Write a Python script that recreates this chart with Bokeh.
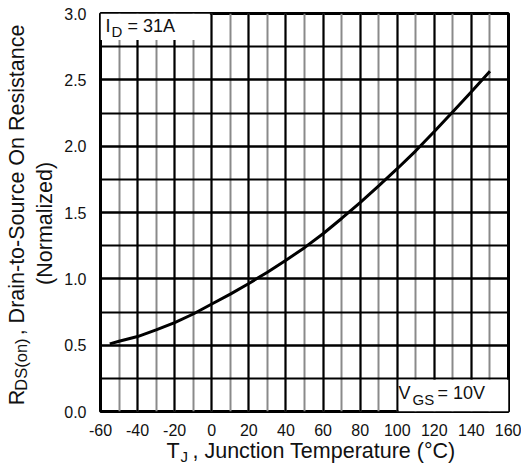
import math
from bokeh.plotting import figure
from bokeh.layouts import column, row
from bokeh.models import Range1d, SingleIntervalTicker, Label, BoxAnnotation, PrintfTickFormatter
from bokeh.embed import file_html
from bokeh.resources import INLINE

# ---- data ----
temps = [-55, -50, -40, -30, -20, -10, 0, 10, 20, 30, 40, 50, 60, 70, 80, 90, 100, 110, 120, 130, 140, 150]
rds_norm = [0.51, 0.53, 0.565, 0.615, 0.67, 0.735, 0.81, 0.885, 0.965, 1.05, 1.14, 1.235, 1.34, 1.455,
            1.575, 1.70, 1.83, 1.965, 2.11, 2.26, 2.41, 2.565]
x_ticks = [-60, -40, -20, 0, 20, 40, 60, 80, 100, 120, 140, 160]
y_ticks = [0.0, 0.5, 1.0, 1.5, 2.0, 2.5, 3.0]

FONT = "Liberation Sans"
INK = "#111111"

# page layout: left title strip | main plot ; bottom title strip
L_W, M_W, M_H, B_H = 60, 461, 439, 26

p = figure(width=M_W, height=M_H, output_backend="svg", toolbar_location=None,
           x_range=Range1d(x_ticks[0], x_ticks[-1]), y_range=Range1d(y_ticks[0], y_ticks[-1]),
           min_border_left=40, min_border_right=M_W - 40 - 408, min_border_top=13,
           min_border_bottom=M_H - 13 - 398)
p.background_fill_color = "white"
p.border_fill_color = "white"
p.outline_line_color = "black"
p.outline_line_width = 3

p.xaxis.ticker = SingleIntervalTicker(interval=20, num_minor_ticks=2)
p.yaxis.ticker = SingleIntervalTicker(interval=0.5, num_minor_ticks=2)
p.xaxis.formatter = PrintfTickFormatter(format="%d")
p.yaxis.formatter = PrintfTickFormatter(format="%.1f")
for ax in (p.xaxis, p.yaxis):
    ax.axis_line_color = None
    ax.major_tick_line_color = None
    ax.minor_tick_line_color = None
    ax.major_tick_out = 0
    ax.major_tick_in = 0
    ax.major_label_text_font = FONT
    ax.major_label_text_font_size = "16px"
    ax.major_label_text_color = INK
p.xaxis.major_label_standoff = 8
p.yaxis.major_label_standoff = 10

p.xgrid.grid_line_color = "black"
p.xgrid.grid_line_width = 2
p.xgrid.minor_grid_line_color = "#8a8a8a"
p.xgrid.minor_grid_line_width = 2
p.ygrid.grid_line_color = "black"
p.ygrid.grid_line_width = 2
p.ygrid.minor_grid_line_color = "black"
p.ygrid.minor_grid_line_width = 2

# white boxes behind the condition notes
p.add_layout(BoxAnnotation(left=-60, right=-1, bottom=2.8, top=3.0, fill_color="white",
                           fill_alpha=1, line_color=None, level="underlay"))
p.add_layout(BoxAnnotation(left=100.8, right=160, bottom=0, top=0.24, fill_color="white",
                           fill_alpha=1, line_color=None, level="underlay"))

p.line(temps, rds_norm, line_color="black", line_width=3)

K = 0.39        # observed vertical shift of text vs. requested baseline, in font sizes
ROT_ALONG = 24  # observed shift along the reading direction for rotated labels


def mk_label(text, x, y, size, angle=0.0, align="left", **kw):
    return Label(x=x, y=y, text=text, text_font=FONT, text_font_size=f"{size}px", text_color=INK,
                 angle=angle, text_align=align, text_baseline="alphabetic", **kw)


# notes inside the frame: positions in page px relative to frame bottom-left (page 100, 411)
def note(text, xp, yp, size):
    yp = yp - K * size
    p.add_layout(mk_label(text, -60, 0, size, x_offset=xp - 100, y_offset=411 - yp))


note("I", 105, 33, 18)
note("D", 111, 36.5, 15)
note("= 31A", 127, 33, 18)
note("V", 398, 400, 18)
note("GS", 412, 405, 15)
note("= 10V", 437, 400, 18)


def strip(w, h, x0, y0):
    f = figure(width=w, height=h, output_backend="svg", toolbar_location=None,
               x_range=Range1d(x0, x0 + w), y_range=Range1d(y0 + h, y0),
               x_axis_location=None, y_axis_location=None, min_border=0)
    f.grid.visible = False
    f.outline_line_color = None
    f.background_fill_color = "white"
    f.border_fill_color = "white"
    return f


# left strip: y axis title (rotated)
left = strip(L_W, M_H, 0, 0)
r = math.pi / 2


def vlab(text, xb, ys, size, align="left"):
    left.add_layout(mk_label(text, xb - K * size, ys + ROT_ALONG, size, r, align))


vlab("R", 25, 408, 21.5)
vlab("DS(on)", 27, 392, 16.5)
vlab(", Drain-to-Source On Resistance", 25, 331, 21.5)
vlab("(Normalized)", 53, 207.5, 21.5, "center")

# bottom strip: x axis title
bottom = strip(L_W + M_W, B_H, 0, M_H)


def hlab(text, xs, yb, size):
    bottom.add_layout(mk_label(text, xs, yb - K * size, size))


hlab("T", 166, 458.5, 21.5)
hlab("J", 180, 461.5, 15)
hlab(", Junction Temperature (\u00b0C)", 192, 458.5, 21.5)

layout = column(row(left, p, spacing=0), bottom, spacing=0)
open("out.html", "w").write(file_html(layout, INLINE))
